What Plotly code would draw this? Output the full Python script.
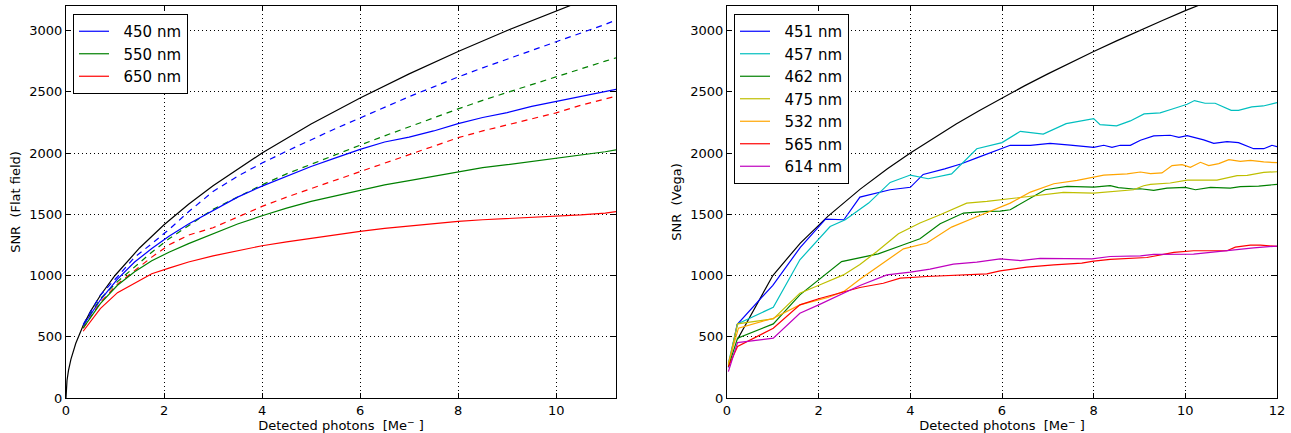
import plotly.graph_objects as go

# ---------------- Left panel (Flat field) ----------------
L_black_x = [0, 0.02, 0.05, 0.1, 0.2, 0.35, 0.5, 0.7, 1, 1.5, 2, 2.5, 3, 4, 5, 6, 7, 8, 9, 10, 11, 11.25]
L_black_y = [0, 141, 224, 316, 447, 592, 707, 837, 1000, 1225, 1414, 1581, 1732, 2000, 2236, 2449, 2646, 2828, 3000, 3162, 3317, 3354]

L_x = [0.35, 0.7, 1.05, 1.4, 1.75, 2.1, 2.5, 3, 3.5, 4, 4.5, 5, 5.5, 6, 6.5, 7, 7.5, 8, 8.5, 9, 9.5, 10, 10.5, 11, 11.22]
L_450_meas = [590, 800, 970, 1110, 1220, 1320, 1420, 1530, 1640, 1730, 1810, 1890, 1960, 2030, 2090, 2130, 2180, 2240, 2290, 2330, 2380, 2420, 2460, 2500, 2520]
L_450_pred = [600, 840, 990, 1150, 1260, 1375, 1520, 1686, 1810, 1918, 2015, 2110, 2200, 2286, 2375, 2460, 2540, 2621, 2695, 2765, 2835, 2905, 2980, 3050, 3085]
L_550_meas = [570, 770, 920, 1030, 1120, 1190, 1260, 1340, 1420, 1488, 1550, 1605, 1650, 1695, 1740, 1775, 1810, 1850, 1880, 1905, 1930, 1959, 1985, 2010, 2025]
L_550_pred = [590, 810, 950, 1070, 1190, 1300, 1410, 1540, 1640, 1740, 1830, 1910, 1990, 2064, 2140, 2215, 2290, 2360, 2430, 2495, 2560, 2621, 2690, 2750, 2777]
L_650_meas = [545, 730, 860, 940, 1014, 1060, 1110, 1160, 1200, 1243, 1275, 1305, 1330, 1360, 1385, 1405, 1425, 1442, 1455, 1465, 1475, 1483, 1495, 1510, 1521]
L_650_pred = [570, 780, 930, 1040, 1150, 1250, 1330, 1390, 1480, 1564, 1640, 1710, 1780, 1850, 1920, 1990, 2060, 2125, 2180, 2230, 2280, 2328, 2390, 2440, 2464]

# ---------------- Right panel (Vega) ----------------
R_black_x = [0.23, 1.0, 1.6, 2.2, 2.9, 3.5, 4, 4.5, 5, 5.5, 6, 6.5, 7, 7.5, 8, 8.5, 9, 9.5, 10, 10.5, 11, 11.5, 12]
R_black_y = [480, 1000, 1265, 1483, 1703, 1871, 2000, 2121, 2236, 2345, 2449, 2550, 2646, 2739, 2828, 2915, 3000, 3082, 3162, 3240, 3317, 3391, 3464]

R451_x = [0.03, 0.22, 1.0, 1.6, 2.15, 2.55, 2.9, 3.56, 4.0, 4.28, 4.75, 5.1, 5.45, 6.0, 6.18, 6.62, 7.05, 7.49, 8.0, 8.22, 8.40, 8.58, 8.8, 9.02, 9.31, 9.67, 9.86, 10.04, 10.4, 10.62, 10.91, 11.16, 11.49, 11.71, 11.89, 12.0]
R451_y = [250, 600, 920, 1230, 1460, 1455, 1640, 1700, 1720, 1825, 1870, 1910, 1960, 2035, 2063, 2063, 2079, 2065, 2046, 2063, 2046, 2063, 2063, 2104, 2139, 2145, 2128, 2142, 2107, 2079, 2093, 2085, 2035, 2035, 2063, 2052]

R457_x = [0.03, 0.23, 1.01, 1.59, 2.25, 2.58, 3.09, 3.56, 4.0, 4.39, 4.9, 5.45, 6.0, 6.4, 6.9, 7.4, 8.0, 8.14, 8.5, 8.8, 9.1, 9.45, 9.7, 10.04, 10.2, 10.43, 10.65, 11.0, 11.16, 11.45, 11.7, 12.0]
R457_y = [283, 605, 741, 1128, 1400, 1455, 1591, 1760, 1820, 1790, 1830, 2035, 2085, 2177, 2155, 2240, 2281, 2232, 2221, 2262, 2319, 2327, 2357, 2398, 2428, 2406, 2406, 2348, 2348, 2376, 2384, 2412]

R462_x = [0.03, 0.23, 1.01, 1.59, 2.5, 2.9, 3.3, 3.85, 4.21, 4.65, 5.16, 5.67, 5.96, 6.18, 6.94, 7.42, 8.0, 8.36, 8.54, 8.87, 9.02, 9.31, 9.6, 10.0, 10.22, 10.55, 10.98, 11.2, 11.6, 12.0]
R462_y = [256, 488, 605, 842, 1114, 1147, 1177, 1251, 1300, 1422, 1510, 1523, 1525, 1537, 1700, 1727, 1722, 1733, 1717, 1706, 1708, 1695, 1714, 1719, 1700, 1719, 1714, 1725, 1730, 1744]

R475_x = [0.03, 0.23, 1.01, 1.59, 2.03, 2.54, 2.9, 3.27, 3.74, 4.21, 4.65, 5.23, 5.67, 6.18, 6.4, 6.83, 7.34, 8.0, 8.43, 8.87, 9.09, 9.24, 9.67, 10.04, 10.69, 11.13, 11.35, 11.71, 12.0]
R475_y = [270, 605, 646, 856, 924, 1005, 1090, 1196, 1341, 1428, 1496, 1591, 1605, 1627, 1640, 1659, 1678, 1673, 1684, 1700, 1733, 1744, 1755, 1779, 1779, 1815, 1817, 1842, 1847]

R532_x = [0.03, 0.25, 1.01, 1.59, 2.2, 2.55, 2.9, 3.3, 3.85, 4.36, 4.9, 5.38, 5.96, 6.18, 6.62, 7.13, 7.64, 8.0, 8.22, 8.73, 9.02, 9.24, 9.49, 9.71, 9.93, 10.11, 10.33, 10.51, 10.73, 10.95, 11.2, 11.42, 11.71, 12.0]
R532_y = [283, 570, 651, 760, 820, 870, 970, 1073, 1218, 1265, 1395, 1469, 1556, 1591, 1681, 1749, 1776, 1804, 1820, 1829, 1845, 1831, 1837, 1897, 1905, 1883, 1924, 1897, 1913, 1946, 1932, 1940, 1927, 1921]

R565_x = [0.03, 0.23, 1.01, 1.59, 2.0, 2.5, 2.9, 3.41, 3.78, 4.36, 4.94, 5.67, 5.96, 6.54, 7.13, 7.74, 8.0, 8.36, 9.16, 9.75, 10.18, 10.91, 11.09, 11.42, 11.64, 12.0]
R565_y = [256, 420, 570, 760, 810, 860, 902, 937, 978, 992, 1000, 1014, 1038, 1068, 1087, 1101, 1117, 1131, 1147, 1188, 1202, 1202, 1232, 1248, 1248, 1237]

R614_x = [0.03, 0.23, 1.01, 1.59, 2.0, 2.5, 2.9, 3.49, 4.0, 4.43, 4.94, 5.45, 5.96, 6.4, 6.83, 7.96, 8.36, 9.02, 9.31, 10.18, 10.91, 11.49, 12.0]
R614_y = [215, 452, 488, 692, 760, 850, 918, 1005, 1027, 1052, 1093, 1109, 1136, 1122, 1139, 1136, 1155, 1161, 1172, 1175, 1204, 1226, 1240]

x_ticks_left = [0, 2, 4, 6, 8, 10]
x_ticks_right = [0, 2, 4, 6, 8, 10, 12]
y_ticks = [0, 500, 1000, 1500, 2000, 2500, 3000]

FONT = "DejaVu Sans"
W, H = 1291, 433
ML, MR, MT, MB = 66, 14, 6, 35
PW = W - ML - MR
PH = H - MT - MB
LW = 1.2
NB = "\u00a0\u00a0"

fig = go.Figure()

def add(x, y, color, name=None, dash="solid", axis="1", legend="legend"):
    xa = "x" if axis == "1" else "x2"
    ya = "y" if axis == "1" else "y2"
    fig.add_trace(go.Scatter(
        x=x, y=y, mode="lines", name=(NB + name) if name else "",
        line=dict(color=color, width=LW, dash=dash),
        showlegend=name is not None, legend=legend,
        xaxis=xa, yaxis=ya, hoverinfo="skip"))

DASH = "6px,5px"
# left
add(L_black_x, L_black_y, "black")
add(L_x, L_450_pred, "#0000ff", dash=DASH)
add(L_x, L_550_pred, "#008000", dash=DASH)
add(L_x, L_650_pred, "#ff0000", dash=DASH)
add(L_x, L_450_meas, "#0000ff", name="450 nm")
add(L_x, L_550_meas, "#008000", name="550 nm")
add(L_x, L_650_meas, "#ff0000", name="650 nm")

# right
add(R_black_x, R_black_y, "black", axis="2", legend="legend2")
right_series = [
    (R451_x, R451_y, "#0000ff", "451 nm"),
    (R457_x, R457_y, "#00bfbf", "457 nm"),
    (R462_x, R462_y, "#008000", "462 nm"),
    (R475_x, R475_y, "#bfbf00", "475 nm"),
    (R532_x, R532_y, "#ffa500", "532 nm"),
    (R565_x, R565_y, "#ff0000", "565 nm"),
    (R614_x, R614_y, "#bf00bf", "614 nm"),
]
for xs, ys, c, n in right_series:
    add(xs, ys, c, name=n, axis="2", legend="legend2")

axis_common = dict(
    showline=True, linecolor="black", linewidth=1.3, mirror="ticks",
    ticks="inside", ticklen=5, tickwidth=1, tickcolor="black",
    showgrid=True, gridcolor="black", gridwidth=1, griddash="1px,3px",
    zeroline=False, tickfont=dict(family=FONT, size=13, color="black"),
    automargin=False,
)
xtitle = "Detected photons \u00a0[Me<sup>\u2212</sup> ]"

fig.update_layout(
    width=W, height=H,
    margin=dict(l=ML, r=MR, t=MT, b=MB, autoexpand=False),
    paper_bgcolor="white", plot_bgcolor="white",
    font=dict(family=FONT, color="black"),
    xaxis=dict(domain=[0, (616 - ML) / PW], range=[0, 11.22], tickvals=x_ticks_left,
               title=dict(text=xtitle, font=dict(size=13), standoff=2),
               anchor="y", **axis_common),
    yaxis=dict(domain=[0, 1], range=[0, 3200], tickvals=y_ticks,
               title=dict(text="SNR \u00a0(Flat field)", font=dict(size=13), standoff=5),
               anchor="x", **axis_common),
    xaxis2=dict(domain=[(727 - ML) / PW, 1], range=[0, 12], tickvals=x_ticks_right,
                title=dict(text=xtitle, font=dict(size=13), standoff=2),
                anchor="y2", **axis_common),
    yaxis2=dict(domain=[0, 1], range=[0, 3200], tickvals=y_ticks,
                title=dict(text="SNR \u00a0(Vega)", font=dict(size=13), standoff=5),
                anchor="x2", **axis_common),
    legend=dict(x=(73 - ML) / PW, y=1 - (14 - MT) / PH, xanchor="left", yanchor="top",
                bordercolor="black", borderwidth=1, bgcolor="white",
                font=dict(family=FONT, size=15, color="black"), tracegroupgap=0),
    legend2=dict(x=(734 - ML) / PW, y=1 - (14 - MT) / PH, xanchor="left", yanchor="top",
                 bordercolor="black", borderwidth=1, bgcolor="white",
                 font=dict(family=FONT, size=15, color="black"), tracegroupgap=0),
    showlegend=True,
)

fig.write_html(
    "out.html",
    config={"displayModeBar": False},
    post_script="document.body.style.margin='0px';document.body.style.overflow='hidden';",
)
